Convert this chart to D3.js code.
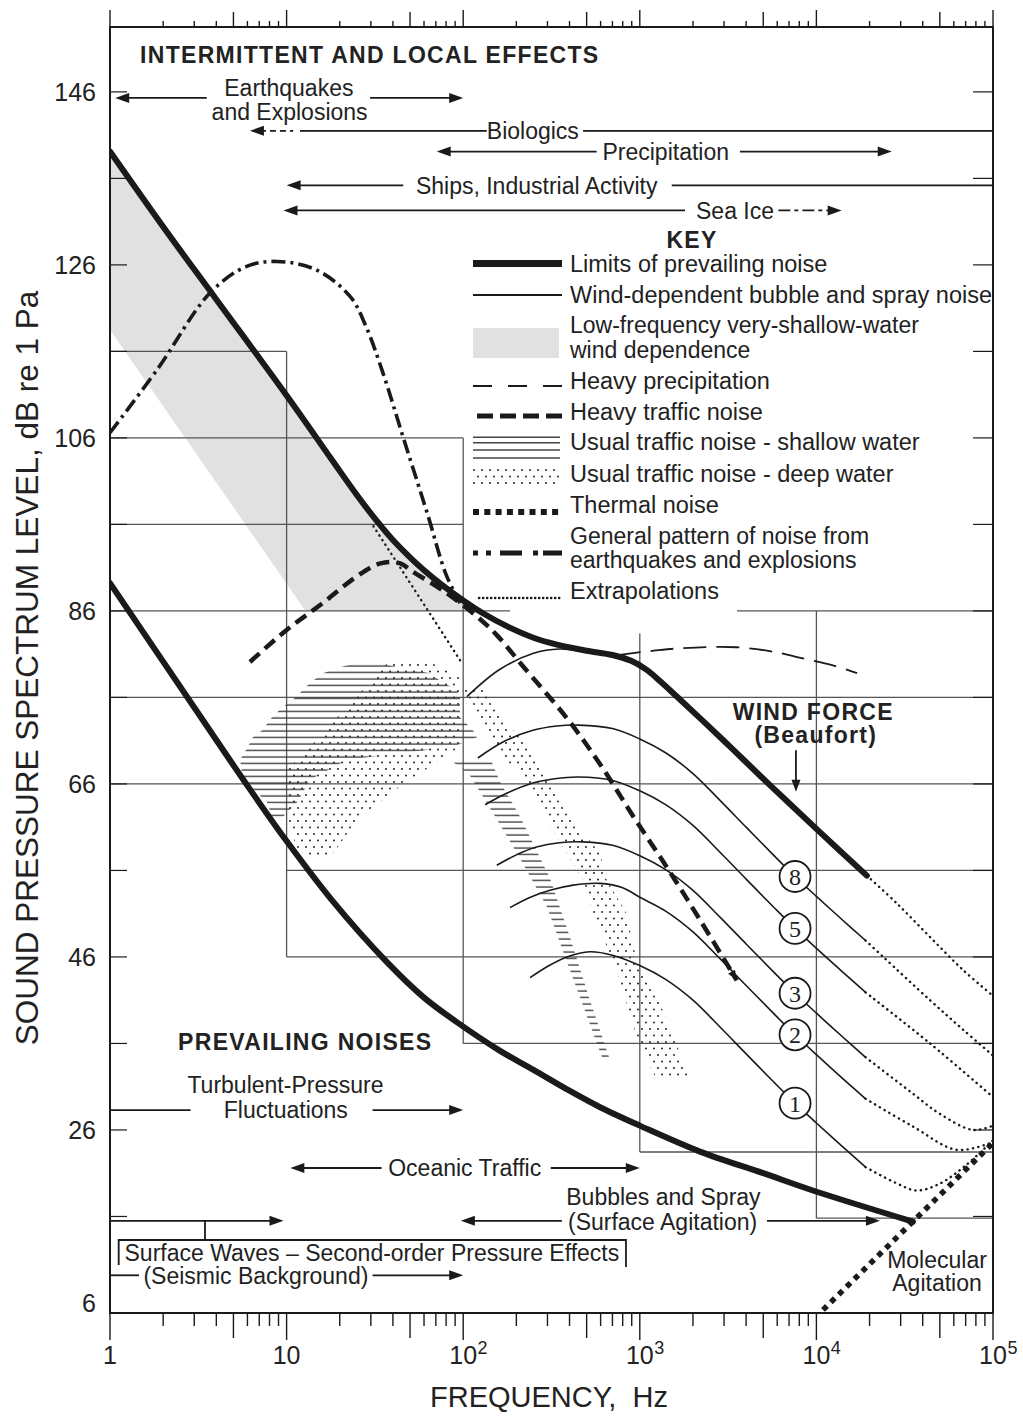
<!DOCTYPE html>
<html>
<head>
<meta charset="utf-8">
<title>Ambient noise spectra in the ocean</title>
<script src="https://cdn.jsdelivr.net/npm/d3@7"></script>
<style>
  html, body { margin: 0; padding: 0; background: #fff; }
  svg { display: block; }
  text { font-family: "Liberation Sans", Arial, Helvetica, sans-serif; fill: #222; }
</style>
</head>
<body>
<svg id="chart" width="1023" height="1417"></svg>
<script>
// ---------------- data (frequency in Hz, level in dB) ----------------
const xTickValues = [1, 10, 100, 1000, 10000, 100000];
const xTickBases  = ["1", "10", "10", "10", "10", "10"];
const xTickExps   = ["", "", "2", "3", "4", "5"];
const yTickValues = [146, 126, 106, 86, 66, 46, 26, 6];
const yMinorTicks = [146, 136, 126, 116, 106, 96, 86, 76, 66, 56, 46, 36, 26, 16];

// limits of prevailing noise
const upperLimit = [[1,139.1],[2,130.4],[4,122.0],[10,110.9],[18,103.5],[25,99.4],[32.4,96.4],[40,94.2],[60,90.7],[100,87.2],[130,85.7],[180,84.15],[250,82.9],[340,82.1],[500,81.4],[700,80.9],[900,80.2],[1100,79.15],[1300,77.9],[1620,76.1],[2300,73.2],[3400,69.9],[5000,66.6],[6500,64.4],[10000,60.8],[19300,55.4]];
const upperLimitExtrap = [[19300,55.4],[28500,52.2],[44000,48.3],[67600,44.5],[100000,41.5]];
const lowerLimit = [[1,89.2],[3.2,74.0],[6,65.8],[10,59.4],[18,52.6],[37,45.4],[60,41.3],[96,38.2],[160,35.2],[250,32.95],[387,30.7],[600,28.6],[1000,26.5],[2190,23.5],[5000,21.0],[9550,19.0],[35200,15.4]];

// low-frequency very-shallow-water wind dependence (lower edge of band)
const grayBandLower = [[1,118.5],[12.8,86.0],[100,86.0]];

// wind-dependent bubble and spray noise, Beaufort wind force
const windTop = [[105,76.1],[160,79.2],[250,81.1],[350,81.6],[480,81.3]];
const wind8  = [[121,69.0],[170,70.9],[248,72.2],[340,72.7],[450,72.8],[700,72.4],[1000,71.2],[1400,69.6],[2000,67.2],[2845,64.1],[4000,61.0],[5700,57.8],[7570,55.3],[10000,53.0],[14000,50.3],[19000,47.9]];
const wind8x = [[19000,47.9],[23900,46.0],[44000,41.0],[67600,37.6],[100000,34.6]];
const wind5  = [[133,63.6],[180,65.0],[248,66.1],[330,66.6],[450,66.8],[700,66.4],[1000,65.2],[1400,63.6],[2000,61.2],[2845,58.1],[4000,55.0],[5700,51.8],[7570,49.3],[10000,47.0],[14000,44.3],[19000,41.9]];
const wind5x = [[19000,41.9],[44000,36.0],[100000,29.8]];
const wind3  = [[155,56.6],[200,57.8],[260,58.7],[350,59.2],[480,59.3],[700,58.9],[1000,57.7],[1400,56.1],[2000,53.7],[2845,50.6],[4000,47.5],[5700,44.3],[7570,41.8],[10000,39.5],[14000,36.8],[19000,34.4]];
const wind3x = [[19000,34.4],[35200,30.2],[49700,27.9],[77000,26.0],[100000,26.5]];
const wind2  = [[184,51.7],[240,52.9],[310,53.7],[420,54.3],[595,54.5],[800,54.0],[1000,52.9],[1400,51.3],[2000,48.9],[2845,45.8],[4000,42.7],[5700,39.5],[7570,37.0],[10000,34.7],[14000,32.0],[19000,29.6]];
const wind2x = [[19000,29.6],[35200,26.4],[62400,23.7],[100000,24.6]];
const wind1  = [[239,43.6],[300,44.9],[387,46.0],[520,46.6],[700,46.2],[1000,45.0],[1400,43.4],[2000,41.0],[2845,37.9],[4000,34.8],[5700,31.6],[7570,29.1],[10000,26.8],[14000,24.1],[19000,21.7]];
const wind1x = [[19000,21.7],[28000,19.9],[37000,19.0],[50000,19.8],[70000,21.9],[100000,24.8]];
const windLabels = ["8", "5", "3", "2", "1"];
const windLabelFreq = 7570;

// other sources
const heavyPrecip  = [[750,80.9],[1200,81.4],[1750,81.7],[3500,81.8],[6000,81.2],[8000,80.6],[12400,79.7],[17000,78.8]];
const heavyTraffic = [[6.2,80.1],[10,83.8],[16,86.9],[25,90.0],[34,91.5],[44,91.5],[52,90.5],[75,88.5],[119,85.4],[155,83.2],[218,79.6],[383,73.7],[595,68.3],[915,62.3],[1420,56.4],[2190,50.3],[3540,43.3]];
const quakes       = [[1,106.6],[1.85,113.9],[3.7,122.8],[5.9,125.8],[8.8,126.4],[14.8,125.4],[23,122.3],[28,119.0],[35,113.6],[46,105.9],[63,97.1],[80,90.2],[96,86.9]];
const lowExtrap    = [[31,95.8],[96,80.3]];
const thermal      = [[10900,5.2],[100000,24.5]];

// usual traffic noise regions
const shallowHump = [[26.1,80.1],[32.5,80.1],[43.9,79.4],[64.9,78.8],[76.8,77.7],[92.2,76.9],[95.9,76.0],[95.9,73.7],[113.6,72.2],[119.8,71.4],[87.5,70.3],[22.0,68.8],[13.6,66.5],[11.5,63.9],[9.55,62.2],[8.27,62.2],[7.74,63.9],[5.66,66.5],[5.45,68.8],[6.04,70.3],[6.45,71.4],[7.26,72.2],[8.27,73.7],[9.18,74.6],[11.2,76.0],[12.4,76.9],[13.6,77.7],[16.1,78.8],[19.3,79.4]];
const shallowFall = [[82,69.0],[109,67.0],[142,63.2],[202,58.0],[298,51.8],[402,44.5],[619,34.1],[678,34.1],[522,41.0],[402,48.3],[310,55.1],[210,62.2],[162,66.2],[142,69.0]];
const deepHump = [[36.9,79.9],[67.7,79.9],[95.9,78.4],[95.9,70.3],[43.9,65.7],[24.9,61.8],[18.4,58.0],[13.6,57.2],[11.4,58.7],[10.0,61.8],[10.0,67.6],[13.6,70.3],[22.9,75.3]];
const deepFall = [[98.5,76.9],[104.7,75.3],[135.9,72.2],[161.6,69.5],[209.7,67.2],[249.5,64.5],[297.1,61.8],[385.5,58.0],[478.6,54.9],[545.5,51.0],[649.5,47.2],[740,44.5],[843,40.6],[960,36.8],[1047,34.9],[1246,31.8],[1924,31.8],[1689,34.9],[1548,36.8],[1302,40.6],[1003,44.5],[919,47.2],[843,51.0],[649.5,54.9],[595.2,58.0],[420.2,61.8],[353.3,64.5],[297.1,67.2],[249.5,69.5],[192.2,72.2],[148.1,75.3],[132.9,76.9]];

// reference boxes: [level dB, from Hz, to Hz] and [Hz, from dB, to dB]
const gridH = [[116,1,10],[106,1,100],[96,1,100],[86,1,184],[86,3550,1e5],[76,1,1e5],[66,1,1e5],[56,10,1e5],[46,10,1e5],[36,100,1e5],[23.45,1000,1e5],[15.8,10000,1e5]];
const gridV = [[10,116,46],[100,106,36],[1000,83.4,23.45],[10000,86,15.8]];

// source range arrows: [from Hz, to Hz, level dB, head at start, head at end, style]
const rangeArrows = [
  [1.07, 3.53, 145.3, 1, 0, ""],
  [29.7, 100, 145.3, 0, 1, ""],
  [6.2, 10.9, 141.5, 1, 0, "dash"],
  [11.9, 136, 141.5, 0, 0, ""],
  [477, 1e5, 141.5, 0, 0, ""],
  [70.8, 570, 139.1, 1, 0, ""],
  [3690, 26700, 139.1, 0, 1, ""],
  [10.0, 45.8, 135.2, 1, 0, ""],
  [1517, 1e5, 135.2, 0, 0, ""],
  [9.6, 1803, 132.3, 1, 0, ""],
  [6090, 13900, 132.3, 0, 1, "dashdot"],
  [1, 2.86, 28.3, 0, 0, ""],
  [30.7, 100, 28.3, 0, 1, ""],
  [10.5, 34.5, 21.6, 1, 0, ""],
  [313, 1000, 21.6, 0, 1, ""],
  [1, 9.6, 15.5, 0, 1, ""],
  [97, 362, 15.5, 1, 0, ""],
  [5250, 22900, 15.5, 0, 1, ""],
  [1, 1.46, 9.2, 0, 0, ""],
  [30.7, 100, 9.2, 0, 1, ""]
];

// source labels: [text, Hz, dB, anchor, bold]
const rangeLabels = [
  ["INTERMITTENT AND LOCAL EFFECTS", 1.48, 150.3, "start", true],
  ["Earthquakes", 10.3, 146.5, "middle", false],
  ["and Explosions", 10.4, 143.7, "middle", false],
  ["Biologics", 248, 141.5, "middle", false],
  ["Precipitation", 1403, 139.1, "middle", false],
  ["Ships, Industrial Activity", 260.8, 135.2, "middle", false],
  ["Sea Ice", 3460, 132.3, "middle", false],
  ["PREVAILING NOISES", 2.43, 36.2, "start", true],
  ["Turbulent-Pressure", 9.85, 31.2, "middle", false],
  ["Fluctuations", 9.9, 28.3, "middle", false],
  ["Oceanic Traffic", 102, 21.6, "middle", false],
  ["Bubbles and Spray", 1361, 18.25, "middle", false],
  ["(Surface Agitation)", 1346, 15.4, "middle", false],
  ["Surface Waves \u2013 Second-order Pressure Effects", 30.4, 11.8, "middle", false],
  ["(Seismic Background)", 6.7, 9.1, "middle", false],
  ["Molecular", 48200, 11.0, "middle", false],
  ["Agitation", 48200, 8.3, "middle", false],
  ["WIND FORCE", 9600, 74.35, "middle", true],
  ["(Beaufort)", 9930, 71.66, "middle", true]
];

// key entries
const keyTexts = [
  ["Limits of prevailing noise"],
  ["Wind-dependent bubble and spray noise"],
  ["Low-frequency very-shallow-water", "wind dependence"],
  ["Heavy precipitation"],
  ["Heavy traffic noise"],
  ["Usual traffic noise - shallow water"],
  ["Usual traffic noise - deep water"],
  ["Thermal noise"],
  ["General pattern of noise from", "earthquakes and explosions"],
  ["Extrapolations"]
];
const keySymbols = ["thick", "thin", "gray", "precip", "traffic", "hatch", "dots", "thermal", "quake", "extrap"];

// ---------------- drawing ----------------
const svg = d3.select("#chart");
const plotLeft = 110, plotRight = 993, plotTop = 27, plotBottom = 1313;
const x = d3.scaleLog().domain([1, 1e5]).range([plotLeft, plotRight]);
const y = d3.scaleLinear().domain([4.84, 153.5]).range([plotBottom, plotTop]);

const smooth = d3.line().x(d => x(d[0])).y(d => y(d[1])).curve(d3.curveCatmullRom.alpha(0.5));
const straight = d3.line().x(d => x(d[0])).y(d => y(d[1]));
const INK = "#1a1a1a";

const defs = svg.append("defs");
defs.append("clipPath").attr("id", "plotClip")
  .append("rect").attr("x", plotLeft).attr("y", plotTop)
  .attr("width", plotRight - plotLeft).attr("height", plotBottom - plotTop);
const hatch = defs.append("pattern").attr("id", "hatch").attr("patternUnits", "userSpaceOnUse")
  .attr("width", 12).attr("height", 6.5);
hatch.append("line").attr("x1", 0).attr("x2", 12).attr("y1", 3).attr("y2", 3)
  .attr("stroke", "#333").attr("stroke-width", 1.3);
const dots = defs.append("pattern").attr("id", "dots").attr("patternUnits", "userSpaceOnUse")
  .attr("width", 8).attr("height", 13);
dots.append("circle").attr("cx", 2).attr("cy", 2).attr("r", 1.05).attr("fill", "#333");
dots.append("circle").attr("cx", 6).attr("cy", 8.5).attr("r", 1.05).attr("fill", "#333");

const plot = svg.append("g").attr("clip-path", "url(#plotClip)");

// shaded band under the upper limit
const bandTop = upperLimit.filter(d => d[0] <= 100);
plot.append("path")
  .attr("d", smooth(bandTop) + straight(grayBandLower.slice().reverse()).replace(/^M/, "L") + "Z")
  .attr("fill", "#e1e1e1").attr("stroke", "none");

// reference boxes
gridH.forEach(([db, f1, f2]) => plot.append("line")
  .attr("x1", x(f1)).attr("x2", x(f2)).attr("y1", y(db)).attr("y2", y(db))
  .attr("stroke", "#555").attr("stroke-width", 1.3));
gridV.forEach(([f, d1, d2]) => plot.append("line")
  .attr("x1", x(f)).attr("x2", x(f)).attr("y1", y(d1)).attr("y2", y(d2))
  .attr("stroke", "#555").attr("stroke-width", 1.3));

// usual traffic regions
[shallowHump, shallowFall].forEach(p => plot.append("path").attr("d", straight(p) + "Z").attr("fill", "url(#hatch)"));
[deepHump, deepFall].forEach(p => plot.append("path").attr("d", straight(p) + "Z").attr("fill", "url(#dots)"));

function curve(data, width, dash, cap) {
  return plot.append("path").attr("d", smooth(data)).attr("fill", "none")
    .attr("stroke", INK).attr("stroke-width", width)
    .attr("stroke-dasharray", dash || null)
    .attr("stroke-linecap", cap || "butt").attr("stroke-linejoin", "round");
}

// wind curves and their extrapolations
const windSolid = [wind8, wind5, wind3, wind2, wind1];
const windExtrap = [wind8x, wind5x, wind3x, wind2x, wind1x, upperLimitExtrap];
curve(windTop, 1.6);
windSolid.forEach(d => curve(d, 1.6));
windExtrap.forEach(d => curve(d, 2.4, "0.3 5.2", "round"));
curve(lowExtrap, 2.4, "0.3 5.2", "round");

// other sources
curve(heavyPrecip, 1.8, "23 10");
curve(heavyTraffic, 4.5, "13 7");
curve(quakes, 3.6, "14 5 3 5");
curve(thermal, 5.5, "5.5 5.5");

// filled arrow tip
function head(g, xt, yt, dx, dy, len, half) {
  const n = Math.hypot(dx, dy); dx /= n; dy /= n;
  const bx = xt - dx * len, by = yt - dy * len;
  g.append("path")
    .attr("d", `M${xt},${yt}L${bx - dy * half},${by + dx * half}L${bx + dy * half},${by - dx * half}Z`)
    .attr("fill", INK);
}
{
  const a = heavyTraffic[heavyTraffic.length - 2], b = heavyTraffic[heavyTraffic.length - 1];
  head(plot, x(b[0]), y(b[1]), x(b[0]) - x(a[0]), y(b[1]) - y(a[1]), 10, 4);
}

// limits of prevailing noise
curve(upperLimit, 6, null, "round");
curve(lowerLimit, 6, null, "round");

// Beaufort labels
const circles = svg.append("g");
windSolid.forEach((d, i) => {
  const p = d.find(q => q[0] === windLabelFreq);
  const cx = x(p[0]), cy = y(p[1]);
  circles.append("circle").attr("cx", cx).attr("cy", cy).attr("r", 15.5)
    .attr("fill", "#fff").attr("stroke", INK).attr("stroke-width", 1.8);
  circles.append("text").attr("x", cx).attr("y", cy).attr("dy", "0.35em")
    .attr("text-anchor", "middle").style("font-family", "'Liberation Serif', 'Times New Roman', serif")
    .attr("font-size", 24).text(windLabels[i]);
});

// frame
svg.append("rect").attr("x", plotLeft).attr("y", plotTop)
  .attr("width", plotRight - plotLeft).attr("height", plotBottom - plotTop)
  .attr("fill", "none").attr("stroke", INK).attr("stroke-width", 2);

// log ticks on top and bottom
const axisG = svg.append("g").attr("stroke", INK).attr("stroke-width", 1.4);
for (let e = 0; e < 5; e++) {
  for (let k = 1; k < 10; k++) {
    const v = k * Math.pow(10, e), px = x(v);
    const upLen = k === 1 ? 17 : (k === 5 ? 15 : 6);
    const downLen = k === 1 ? 27 : (k === 5 ? 25 : 13);
    axisG.append("line").attr("x1", px).attr("x2", px).attr("y1", plotTop).attr("y2", plotTop - upLen);
    axisG.append("line").attr("x1", px).attr("x2", px).attr("y1", plotBottom).attr("y2", plotBottom + downLen);
  }
}
axisG.append("line").attr("x1", x(1e5)).attr("x2", x(1e5)).attr("y1", plotTop).attr("y2", plotTop - 17);
axisG.append("line").attr("x1", x(1e5)).attr("x2", x(1e5)).attr("y1", plotBottom).attr("y2", plotBottom + 27);

yMinorTicks.forEach(v => {
  axisG.append("line").attr("x1", plotLeft).attr("x2", plotLeft + 17).attr("y1", y(v)).attr("y2", y(v)).attr("stroke-width", 1.2);
  axisG.append("line").attr("x1", plotRight).attr("x2", plotRight - 20).attr("y1", y(v)).attr("y2", y(v)).attr("stroke-width", 1.2);
});

// tick labels
yTickValues.forEach(v => svg.append("text").attr("x", 96).attr("y", y(v)).attr("dy", "0.36em")
  .attr("text-anchor", "end").attr("font-size", 25).text(v));
xTickValues.forEach((v, i) => {
  const t = svg.append("text").attr("x", x(v)).attr("y", 1364).attr("text-anchor", "middle")
    .attr("font-size", 25).text(xTickBases[i]);
  if (xTickExps[i]) {
    const w = t.node().getComputedTextLength();
    svg.append("text").attr("x", x(v) + w / 2 + 0.5).attr("y", 1354).attr("font-size", 18).text(xTickExps[i]);
  }
});

// axis titles
svg.append("text").attr("x", 549).attr("y", 1397).attr("dy", "0.36em").attr("text-anchor", "middle")
  .attr("font-size", 29).text("FREQUENCY,\u00a0 Hz");
svg.append("text").attr("transform", "translate(27,668) rotate(-90)").attr("dy", "0.36em")
  .attr("text-anchor", "middle").attr("font-size", 31.5)
  .text("SOUND PRESSURE SPECTRUM LEVEL, dB re 1 Pa");

// source ranges
const ann = svg.append("g");
rangeArrows.forEach(([f1, f2, db, hs, he, style]) => {
  const x1 = x(f1), x2 = x(f2), yy = y(db);
  ann.append("line").attr("x1", hs ? x1 + 10 : x1).attr("x2", he ? x2 - 10 : x2)
    .attr("y1", yy).attr("y2", yy).attr("stroke", INK).attr("stroke-width", 1.8)
    .attr("stroke-dasharray", style === "dash" ? "6 4" : style === "dashdot" ? "12 4 4 4" : null);
  if (hs) head(ann, x1, yy, -1, 0, 14, 5);
  if (he) head(ann, x2, yy, 1, 0, 14, 5);
});
rangeLabels.forEach(([t, f, db, anchor, bold]) => ann.append("text")
  .attr("x", x(f)).attr("y", y(db)).attr("dy", "0.36em").attr("text-anchor", anchor)
  .attr("font-size", 23).attr("font-weight", bold ? "bold" : null)
  .attr("letter-spacing", bold ? 1.3 : null).text(t));

// bracket around the surface-wave label
ann.append("path")
  .attr("d", `M${x(1.12)},${y(10.39)}V${y(13.28)}H${x(835)}V${y(10.16)}`)
  .attr("fill", "none").attr("stroke", INK).attr("stroke-width", 1.8);
ann.append("line").attr("x1", x(3.45)).attr("x2", x(3.45)).attr("y1", y(15.5)).attr("y2", y(13.28))
  .attr("stroke", INK).attr("stroke-width", 1.8);

// wind force pointer
ann.append("line").attr("x1", x(7660)).attr("x2", x(7660)).attr("y1", y(69.9)).attr("y2", y(65.1) - 10)
  .attr("stroke", INK).attr("stroke-width", 1.8);
head(ann, x(7660), y(65.1), 0, 1, 12, 4.5);

// key
const key = svg.append("g");
key.append("text").attr("x", 692).attr("y", 240).attr("dy", "0.36em").attr("text-anchor", "middle")
  .attr("font-size", 23).attr("font-weight", "bold").attr("letter-spacing", 1.3).text("KEY");
const keyTextY = [[263.5], [295], [325, 349.5], [381], [412], [442], [473.5], [505], [535.5, 560], [591]];
const keySymY = [263.5, 295, 343, 386, 416, 447, 477, 512, 553, 598];
const kx1 = 473, kx2 = 562;
keyTexts.forEach((lines, i) => {
  const label = key.append("text").attr("font-size", lines.length > 1 ? 23 : 23.5);
  lines.forEach((t, j) => label.append("tspan").attr("x", 570).attr("y", keyTextY[i][j]).attr("dy", "0.36em").text(t));
  const sy = keySymY[i], s = keySymbols[i];
  const ln = (w, dash, cap) => key.append("line").attr("x1", kx1).attr("x2", kx2).attr("y1", sy).attr("y2", sy)
    .attr("stroke", INK).attr("stroke-width", w).attr("stroke-dasharray", dash || null).attr("stroke-linecap", cap || "butt");
  if (s === "thick") ln(7);
  if (s === "thin") ln(2);
  if (s === "gray") key.append("rect").attr("x", kx1).attr("y", 328).attr("width", 86).attr("height", 30).attr("fill", "#e1e1e1");
  if (s === "precip") ln(2, "19 16");
  if (s === "traffic") key.append("line").attr("x1", kx1 + 4).attr("x2", kx2).attr("y1", sy).attr("y2", sy)
    .attr("stroke", INK).attr("stroke-width", 5).attr("stroke-dasharray", "16 7");
  if (s === "hatch") [437.3, 442.7, 450, 458].forEach(yy => key.append("line").attr("x1", kx1).attr("x2", kx2 - 2)
    .attr("y1", yy).attr("y2", yy).attr("stroke", "#444").attr("stroke-width", 1.4));
  if (s === "dots") key.append("rect").attr("x", kx1).attr("y", 466).attr("width", 87).attr("height", 22).attr("fill", "url(#dots)");
  if (s === "thermal") ln(6, "6 5.3");
  if (s === "quake") ln(5, "5 8 5 9 22 11 5 5 20");
  if (s === "extrap") key.append("line").attr("x1", kx1 + 6).attr("x2", kx2).attr("y1", sy).attr("y2", sy)
    .attr("stroke", INK).attr("stroke-width", 2.4).attr("stroke-dasharray", "0.3 3.7").attr("stroke-linecap", "round");
});
</script>
</body>
</html>
